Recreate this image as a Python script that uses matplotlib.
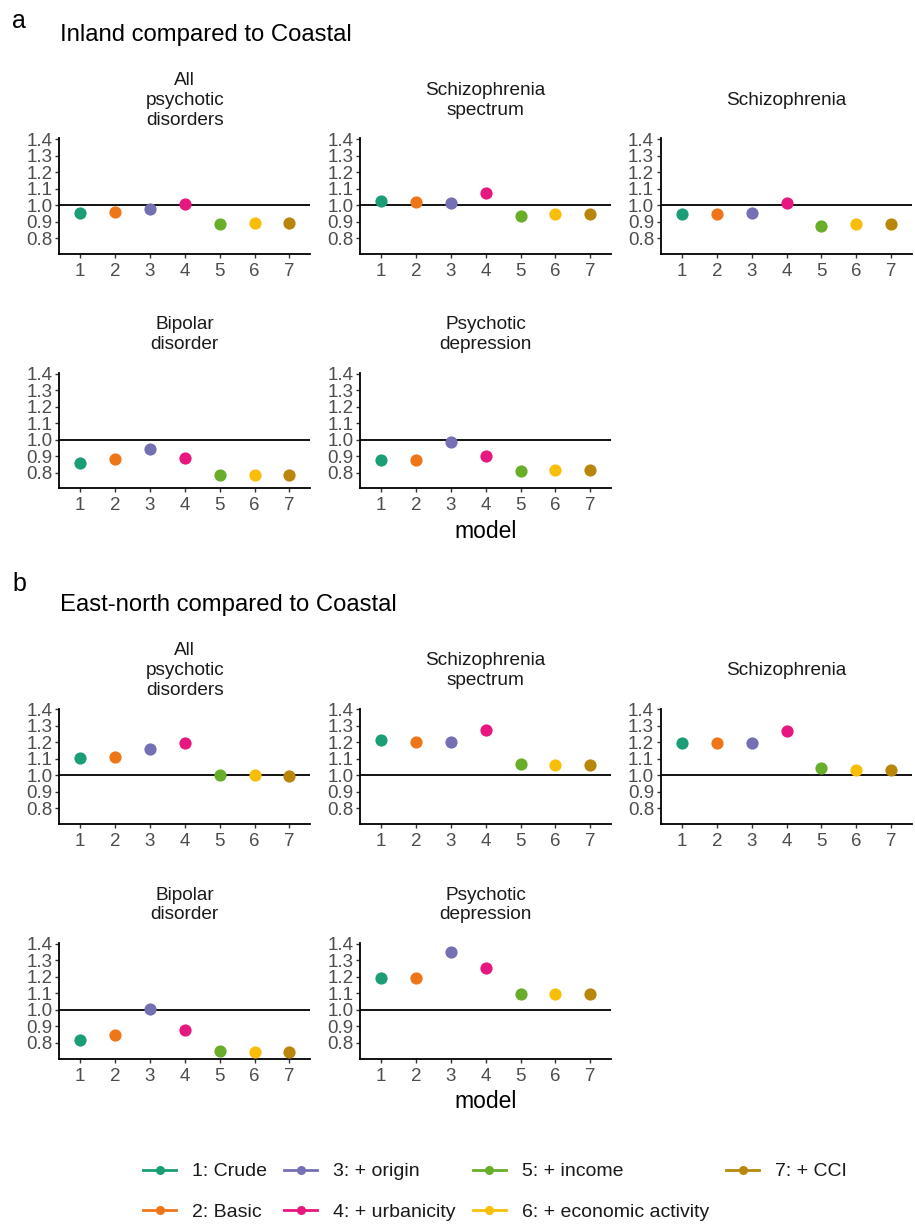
import matplotlib
matplotlib.use("Agg")
import matplotlib.pyplot as plt
from matplotlib.lines import Line2D

plt.rcParams['font.family'] = ['Liberation Sans', 'DejaVu Sans']

# ---- data -------------------------------------------------------------
models = [1, 2, 3, 4, 5, 6, 7]
model_labels = ["1: Crude", "2: Basic", "3: + origin", "4: + urbanicity",
                "5: + income", "6: + economic activity", "7: + CCI"]
model_colors = ["#1B9E77", "#EE7618", "#7570B3", "#E6177F",
                "#69AE2A", "#F9BE0A", "#B8860B"]

outcomes = ["All\npsychotic\ndisorders", "Schizophrenia\nspectrum",
            "Schizophrenia", "Bipolar\ndisorder", "Psychotic\ndepression"]

# Incidence rate ratios, Inland vs Coastal
inland_all_psychotic = [0.952, 0.956, 0.978, 1.008, 0.883, 0.889, 0.889]
inland_scz_spectrum = [1.024, 1.016, 1.010, 1.071, 0.935, 0.943, 0.943]
inland_schizophrenia = [0.943, 0.945, 0.954, 1.014, 0.873, 0.885, 0.885]
inland_bipolar = [0.858, 0.882, 0.942, 0.890, 0.786, 0.786, 0.788]
inland_psy_depression = [0.874, 0.876, 0.982, 0.900, 0.808, 0.814, 0.816]

# Incidence rate ratios, East-north vs Coastal
eastnorth_all_psychotic = [1.105, 1.109, 1.159, 1.194, 1.004, 1.000, 0.998]
eastnorth_scz_spectrum = [1.214, 1.202, 1.202, 1.274, 1.070, 1.062, 1.062]
eastnorth_schizophrenia = [1.196, 1.194, 1.196, 1.270, 1.043, 1.033, 1.033]
eastnorth_bipolar = [0.815, 0.850, 1.004, 0.878, 0.752, 0.742, 0.742]
eastnorth_psy_depression = [1.191, 1.195, 1.351, 1.256, 1.097, 1.093, 1.093]

y_ticks = [0.8, 0.9, 1.0, 1.1, 1.2, 1.3, 1.4]

sections = [
    ("a", "Inland compared to Coastal",
     [inland_all_psychotic, inland_scz_spectrum, inland_schizophrenia,
      inland_bipolar, inland_psy_depression]),
    ("b", "East-north compared to Coastal",
     [eastnorth_all_psychotic, eastnorth_scz_spectrum, eastnorth_schizophrenia,
      eastnorth_bipolar, eastnorth_psy_depression]),
]

# ---- layout (pixels) --------------------------------------------------
W, H = 915, 1226
fig = plt.figure(figsize=(W / 100, H / 100), dpi=100)

col_left = [59.3, 360.2, 661.0]
ax_w, ax_h = 251.0, 115.5
row_top = [[138.2, 372.7], [708.5, 943.0]]
section_title_y = [(21, 35), (584, 605)]
xlabel_y = [532, 1102]

TEXT = "#1A1A1A"
TICK_TXT = "#4D4D4D"


def add_axes_px(left, top, width, height):
    return fig.add_axes([left / W, 1 - (top + height) / H, width / W, height / H])


for s, (letter, title, series) in enumerate(sections):
    ly, ty = section_title_y[s]
    fig.text(12 / W, 1 - ly / H, letter, fontsize=18, color="black",
             ha="left", va="center")
    fig.text(60 / W, 1 - ty / H, title, fontsize=17.2, color="black",
             ha="left", va="center")
    for k, (name, vals) in enumerate(zip(outcomes, series)):
        r, c = divmod(k, 3)
        top = row_top[s][r]
        ax = add_axes_px(col_left[c], top, ax_w, ax_h)
        ax.axhline(1.0, color="black", lw=1.3, zorder=1)
        for m, v, col in zip(models, vals, model_colors):
            ax.plot([m], [v], marker="o", ms=8.8, color=col, mec="none",
                    ls="none", zorder=3)
        ax.set_xlim(0.4, 7.6)
        ax.set_ylim(0.705, 1.405)
        ax.set_xticks(models)
        ax.set_xticklabels([str(m) for m in models])
        ax.set_yticks(y_ticks)
        ax.set_yticklabels([f"{t:.1f}" for t in y_ticks])
        for side in ("top", "right"):
            ax.spines[side].set_visible(False)
        for side in ("left", "bottom"):
            ax.spines[side].set_linewidth(1.3)
            ax.spines[side].set_color("black")
        ax.tick_params(axis="both", length=3, width=1, color="#333333",
                       labelcolor=TICK_TXT, labelsize=13.5)
        ax.tick_params(axis="y", pad=2)
        ax.tick_params(axis="x", pad=3.5)
        ax.set_facecolor("none")
        cx = col_left[c] + ax_w / 2
        fig.text(cx / W, 1 - (top - 38) / H, name, ha="center", va="center",
                 fontsize=13.7, color=TEXT, linespacing=1.22)
    fig.text((col_left[1] + ax_w / 2) / W, 1 - xlabel_y[s] / H, "model",
             ha="center", va="center", fontsize=16.5, color="black")

# ---- legend -----------------------------------------------------------
handles = [Line2D([0], [0], color=col, lw=2, marker="o", ms=6.5, mec="none")
           for col in model_colors]
fig.legend(handles, model_labels, loc="center",
           bbox_to_anchor=(495 / W, 1 - 1192 / H), ncol=4, frameon=False,
           fontsize=14, handlelength=1.7, handletextpad=0.8,
           columnspacing=0.9, labelspacing=1.2, labelcolor=TEXT)

fig.savefig("out.png", dpi=100, facecolor="white")
